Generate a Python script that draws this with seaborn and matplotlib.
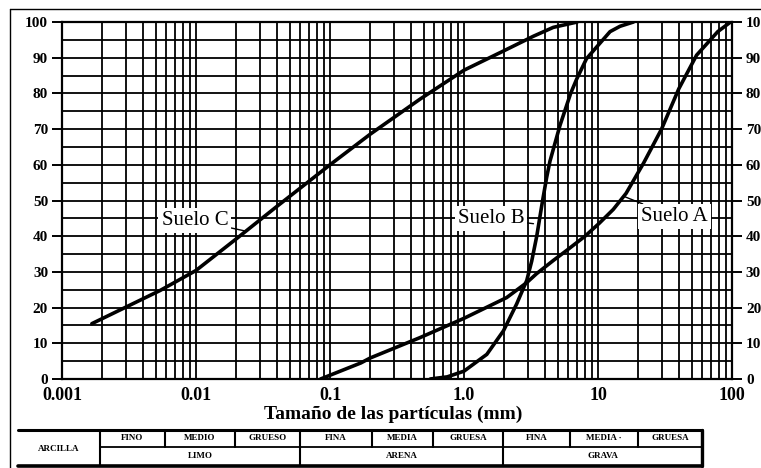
import matplotlib
matplotlib.use("Agg")
import numpy as np
import pandas as pd
import matplotlib.pyplot as plt
import seaborn as sns
from matplotlib.lines import Line2D
from matplotlib.ticker import FixedLocator, LogLocator, MultipleLocator, NullFormatter

# ---------------- data ----------------
suelo_a_mm = [0.085, 0.17, 0.2, 0.47, 1.0, 2.08, 2.94, 3.48, 4.64, 5.83, 8.0, 10.2, 13.0, 16.2,
              21.9, 29.8, 40.1, 54.4, 78.3, 97.6]
suelo_a_pct = [0, 4.5, 5.9, 11.6, 17, 22.8, 27, 29.5, 33.2, 36, 40, 43.6, 47.5, 52,
               60.5, 70, 81.3, 90.7, 97.3, 100]

suelo_b_mm = [0.56, 0.75, 1.0, 1.48, 1.97, 2.47, 2.94, 3.2, 3.49, 3.86, 4.14, 4.38, 5.2, 6.25,
              6.93, 8.2, 9.77, 12.3, 14.6, 18.4]
suelo_b_pct = [0, 0.6, 2.2, 6.9, 13.5, 21, 27.6, 33, 40, 50, 56.5, 61, 71, 80,
               84, 89.7, 93, 97.3, 98.8, 100]

suelo_c_mm = [0.00167, 0.0054, 0.01, 0.0202, 0.04, 0.1, 0.2, 0.47, 1.0, 2.0, 3.29, 4.64, 7.0]
suelo_c_pct = [15.5, 24.8, 30.4, 39.4, 48.3, 60, 68.6, 78.4, 86.5, 92, 96, 98.5, 100]

soil_names = ["Suelo A", "Suelo B", "Suelo C"]
x_tick_values = [0.001, 0.01, 0.1, 1.0, 10, 100]
x_tick_labels = ["0.001", "0.01", "0.1", "1.0", "10", "100"]
y_tick_values = [0, 10, 20, 30, 40, 50, 60, 70, 80, 90, 100]
x_title = "Tamaño de las partículas (mm)"

# label anchor (text) and leader-line target (on curve), data coords
label_text_pos = {"Suelo C": (0.0098, 44.5), "Suelo B": (1.59, 45), "Suelo A": (37, 45.5)}
label_curve_pos = {"Suelo C": (0.023, 41.5), "Suelo B": (3.3, 43.5), "Suelo A": (15.5, 51.2)}

# classification table
table_top_labels = ["FINO", "MEDIO", "GRUESO", "FINA", "MEDIA", "GRUESA", "FINA", "MEDIA ·", "GRUESA"]
table_group_labels = ["LIMO", "ARENA", "GRAVA"]
table_first_label = "ARCILLA"

# ---------------- styling ----------------
sns.set_theme(style="white")
plt.rcParams["font.family"] = ["Liberation Serif", "DejaVu Serif"]
plt.rcParams["axes.edgecolor"] = "black"

W, H = 761, 468
fig = plt.figure(figsize=(W / 100, H / 100), dpi=100)
fig.patch.set_facecolor("white")

ax_l, ax_r, ax_t, ax_b = 62, 732, 22, 379
ax = fig.add_axes([ax_l / W, 1 - ax_b / H, (ax_r - ax_l) / W, (ax_b - ax_t) / H])

df = pd.concat([
    pd.DataFrame({"mm": suelo_a_mm, "pct": suelo_a_pct, "suelo": soil_names[0]}),
    pd.DataFrame({"mm": suelo_b_mm, "pct": suelo_b_pct, "suelo": soil_names[1]}),
    pd.DataFrame({"mm": suelo_c_mm, "pct": suelo_c_pct, "suelo": soil_names[2]}),
], ignore_index=True)

sns.lineplot(data=df, x="mm", y="pct", hue="suelo", palette=["black"] * 3,
             estimator=None, sort=False, legend=False, linewidth=2.6, ax=ax, zorder=5)

ax.set_xscale("log")
ax.set_xlim(0.001, 100)
ax.set_ylim(0, 100)

ax.xaxis.set_major_locator(FixedLocator(x_tick_values))
ax.xaxis.set_minor_locator(LogLocator(base=10, subs=range(2, 10), numticks=30))
ax.xaxis.set_minor_formatter(NullFormatter())
ax.set_xticklabels(x_tick_labels)
ax.yaxis.set_major_locator(FixedLocator(y_tick_values))
ax.yaxis.set_minor_locator(MultipleLocator(5))

ax.grid(True, which="both", axis="both", color="black", linewidth=1.3)
ax.set_axisbelow(True)
for sp in ax.spines.values():
    sp.set_linewidth(1.6)
    sp.set_color("black")

ax.tick_params(axis="x", which="major", direction="out", length=4, width=1.2,
               pad=2, labelsize=13, colors="black")
ax.tick_params(axis="y", which="major", direction="out", length=7, width=1.4,
               pad=3, labelsize=11, colors="black", left=True, right=True,
               labelleft=True, labelright=True)
ax.tick_params(which="minor", length=0)
for lab in ax.get_xticklabels() + ax.get_yticklabels():
    lab.set_fontweight("bold")

ax.set_xlabel(x_title, fontsize=14, fontweight="bold", color="black")
ax.set_ylabel("")
ax.xaxis.set_label_coords((393 - ax_l) / (ax_r - ax_l), -(414 - ax_b) / (ax_b - ax_t))
ax.xaxis.label.set_va("center")

for name in soil_names:
    tx, ty = label_text_pos[name]
    cx, cy = label_curve_pos[name]
    ax.annotate(name, xy=(cx, cy), xytext=(tx, ty), ha="center", va="center",
                fontsize=15, color="black", zorder=6,
                bbox=dict(boxstyle="square,pad=0.15", facecolor="white", edgecolor="none"),
                arrowprops=dict(arrowstyle="-", color="black", lw=1.0, shrinkA=0, shrinkB=0))

# ---------------- classification table ----------------
tb_l, tb_r, tb_t, tb_m, tb_b = 18, 702, 430, 447, 466
tax = fig.add_axes([0, 0, 1, 1], facecolor="none")
tax.set_xlim(0, W)
tax.set_ylim(H, 0)
tax.axis("off")

top_edges = [100, 165, 235, 300, 372, 433, 503, 570, 638, 702]
group_edges = [100, 300, 503, 702]
lc = "black"
tax.plot([tb_l, tb_r], [tb_t, tb_t], color=lc, lw=2.2)
tax.plot([tb_l, tb_r], [tb_b, tb_b], color=lc, lw=2.6)
tax.plot([100, tb_r], [tb_m, tb_m], color=lc, lw=1.3)
for xe in top_edges:
    tax.plot([xe, xe], [tb_t, tb_m], color=lc, lw=1.5)
for xe in group_edges:
    tax.plot([xe, xe], [tb_m, tb_b], color=lc, lw=1.5)
tax.plot([tb_r, tb_r], [tb_t, tb_b], color=lc, lw=2.4)

fs_t = 6.5
tax.text((tb_l + 100) / 2, (tb_t + tb_b) / 2 + 1, table_first_label, ha="center", va="center",
         fontsize=fs_t, fontweight="bold", color="black")
for i, lab in enumerate(table_top_labels):
    tax.text((top_edges[i] + top_edges[i + 1]) / 2, (tb_t + tb_m) / 2, lab, ha="center",
             va="center", fontsize=fs_t, fontweight="bold", color="black")
for i, lab in enumerate(table_group_labels):
    tax.text((group_edges[i] + group_edges[i + 1]) / 2, (tb_m + tb_b) / 2, lab, ha="center",
             va="center", fontsize=fs_t, fontweight="bold", color="black")

# outer frame of the scanned page (left and top edges)
fig.add_artist(Line2D([10 / W, 10 / W], [0, 1 - 9 / H], color="black", lw=1.0))
fig.add_artist(Line2D([10 / W, 1], [1 - 9 / H, 1 - 9 / H], color="black", lw=1.0))

fig.savefig("out.png", dpi=100, facecolor="white")
